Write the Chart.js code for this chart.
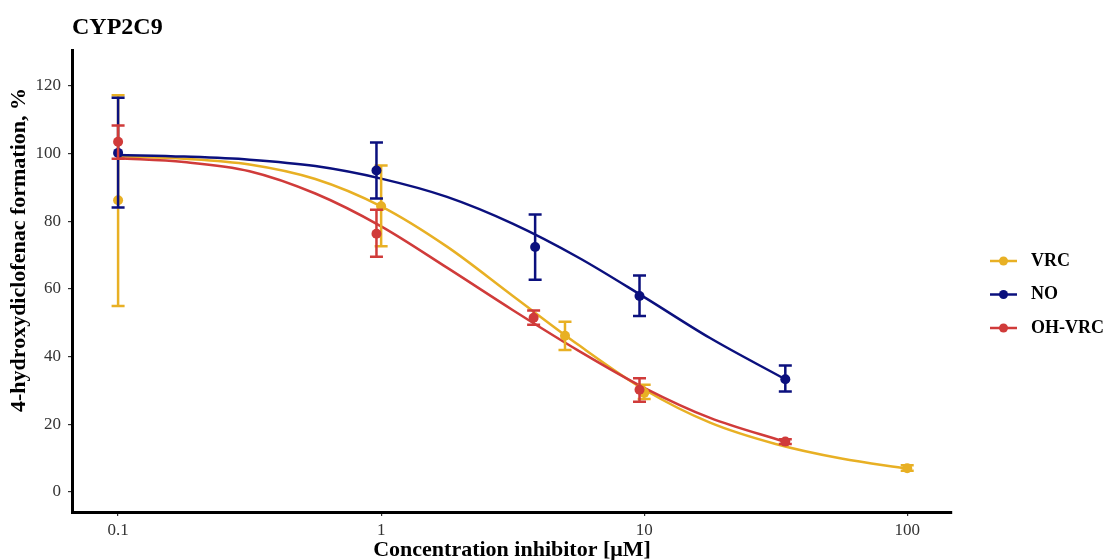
<!DOCTYPE html>
<html>
<head>
<meta charset="utf-8">
<script src="https://cdn.jsdelivr.net/npm/chart.js@4.4.1/dist/chart.umd.min.js"></script>
<style>
  html, body { margin: 0; padding: 0; background: #fff; }
  #wrap { width: 1110px; height: 560px; }
</style>
</head>
<body>
<div id="wrap"><canvas id="inhibChart"></canvas></div>
<script>
// Series names and colours (legend order)
const seriesNames = ['VRC', 'NO', 'OH-VRC'];
const seriesColors = ['#E8B024', '#0B107E', '#D03B3A'];

// Measured points: concentration (µM), mean %, error bar low / high
const concVRC = [0.1, 1, 5, 10, 100];
const meanVRC = [86.2, 84.4, 46.2, 29.3, 7.0];
const lowVRC  = [55.0, 72.6, 42.0, 27.5, 6.3];
const highVRC = [117.2, 96.5, 50.3, 31.7, 7.9];

const concNO = [0.1, 0.96, 3.85, 9.6, 34.4];
const meanNO = [100.2, 95.0, 72.4, 57.9, 33.3];
const lowNO  = [84.1, 86.7, 62.7, 52.0, 29.7];
const highNO = [116.5, 103.3, 82.0, 64.0, 37.4];

const concOH = [0.1, 0.96, 3.8, 9.6, 34.4];
const meanOH = [103.5, 76.3, 51.5, 30.2, 14.9];
const lowOH  = [98.5, 69.5, 49.4, 26.7, 14.2];
const highOH = [108.3, 83.4, 53.6, 33.6, 15.6];

// Fitted curves
const curveConc    = [0.1, 0.178, 0.316, 0.562, 1, 1.78, 3.16, 5.62, 10, 17.8, 34.4];
const curveConcVRC = [0.1, 0.178, 0.316, 0.562, 1, 1.78, 3.16, 5.62, 10, 17.8, 31.6, 56.2, 100];
const curveVRC = [99.2, 98.5, 96.8, 92.5, 84.4, 72.5, 58.0, 43.5, 30.3, 20.5, 14.2, 9.9, 6.9];
const curveNO  = [99.6, 99.1, 98.2, 96.3, 92.6, 87.2, 79.3, 69.3, 57.6, 45.5, 33.3];
const curveOH  = [98.6, 97.5, 94.8, 88.2, 78.5, 66.3, 53.8, 41.8, 30.8, 21.9, 14.8];

// Axis ticks and titles
const xTicks = [0.1, 1, 10, 100];
const yTicks = [0, 20, 40, 60, 80, 100, 120];
const xTitle = 'Concentration inhibitor [μM]';
const yTitle = '4-hydroxydiclofenac formation, %';

const toXY = (xs, ys) => xs.map((x, i) => ({ x: x, y: ys[i] }));

Chart.defaults.font.family = '"Liberation Serif", "Times New Roman", serif';

// error bars with caps, drawn just before each point dataset
const errorBars = {
    id: 'errorBars',
    beforeDatasetDraw(chart, args) {
        const ds = chart.data.datasets[args.index];
        if (!ds.errLow) return;
        const { ctx, scales: { x, y } } = chart;
        ctx.save();
        ctx.strokeStyle = ds.backgroundColor;
        ctx.lineWidth = 2.5;
        ds.data.forEach((p, i) => {
            const px = x.getPixelForValue(p.x);
            const yl = y.getPixelForValue(ds.errLow[i]);
            const yh = y.getPixelForValue(ds.errHigh[i]);
            ctx.beginPath();
            ctx.moveTo(px, yl); ctx.lineTo(px, yh);
            ctx.moveTo(px - 6.5, yl); ctx.lineTo(px + 6.5, yl);
            ctx.moveTo(px - 6.5, yh); ctx.lineTo(px + 6.5, yh);
            ctx.stroke();
        });
        ctx.restore();
    }
};

// legend on the right (line + dot, like ggplot) and the y axis title
const sideLegend = {
    id: 'sideLegend',
    afterDraw(chart) {
        const ctx = chart.ctx;
        const x0 = chart.chartArea.right + 38;
        ctx.save();
        ctx.font = 'bold 18px "Liberation Serif", serif';
        ctx.textBaseline = 'middle';
        seriesNames.forEach((name, i) => {
            const cy = 261 + i * 33.5;
            ctx.strokeStyle = seriesColors[i];
            ctx.lineWidth = 2.5;
            ctx.beginPath();
            ctx.moveTo(x0, cy); ctx.lineTo(x0 + 27, cy);
            ctx.stroke();
            ctx.fillStyle = seriesColors[i];
            ctx.beginPath();
            ctx.arc(x0 + 13.5, cy, 4.5, 0, Math.PI * 2);
            ctx.fill();
            ctx.fillStyle = '#000';
            ctx.fillText(name, x0 + 41, cy);
        });
        // y title sits a bit above the panel centre in the original
        ctx.translate(19, 250);
        ctx.rotate(-Math.PI / 2);
        ctx.textAlign = 'center';
        ctx.font = 'bold 22px "Liberation Serif", serif';
        ctx.fillText(yTitle, 0, 0);
        ctx.restore();
    }
};

function curveSet(xs, ys, color, order) {
    return {
        data: toXY(xs, ys),
        showLine: true,
        borderColor: color,
        borderWidth: 2.5,
        pointRadius: 0,
        pointHoverRadius: 0,
        cubicInterpolationMode: 'monotone',
        fill: false,
        order: order
    };
}
function pointSet(xs, ys, lo, hi, color, order) {
    return {
        data: toXY(xs, ys),
        showLine: false,
        pointRadius: 5,
        backgroundColor: color,
        borderColor: color,
        borderWidth: 0,
        errLow: lo,
        errHigh: hi,
        order: order
    };
}

new Chart(document.getElementById('inhibChart'), {
    type: 'scatter',
    data: {
        datasets: [
            curveSet(curveConcVRC, curveVRC, seriesColors[0], 6),
            curveSet(curveConc, curveNO, seriesColors[1], 5),
            curveSet(curveConc, curveOH, seriesColors[2], 4),
            pointSet(concVRC, meanVRC, lowVRC, highVRC, seriesColors[0], 3),
            pointSet(concNO, meanNO, lowNO, highNO, seriesColors[1], 2),
            pointSet(concOH, meanOH, lowOH, highOH, seriesColors[2], 1)
        ]
    },
    options: {
        responsive: true,
        maintainAspectRatio: false,
        animation: false,
        layout: { padding: { left: 0, right: 158, top: 0, bottom: 0 } },
        plugins: {
            legend: { display: false },
            tooltip: { enabled: false },
            title: {
                display: true,
                text: 'CYP2C9',
                align: 'start',
                fullSize: false,
                color: '#000',
                font: { size: 24, weight: 'bold' },
                padding: { top: 13, bottom: 8.2 }
            }
        },
        scales: {
            x: {
                type: 'logarithmic',
                min: 0.0668,
                max: 148,
                afterBuildTicks: s => { s.ticks = xTicks.map(v => ({ value: v })); },
                afterFit: s => { s.height = 48; },
                border: { display: true, color: '#000', width: 3 },
                grid: { display: true, drawOnChartArea: false, drawTicks: true, tickLength: 4, color: '#333', lineWidth: 1.2 },
                ticks: {
                    color: '#333',
                    font: { size: 17 },
                    padding: 4,
                    maxRotation: 0,
                    callback: v => String(v)
                },
                title: {
                    display: true,
                    text: xTitle,
                    color: '#000',
                    font: { size: 22, weight: 'bold', lineHeight: 1 },
                    padding: { top: 0, bottom: -1 }
                }
            },
            y: {
                min: -5.9,
                max: 130.6,
                afterBuildTicks: s => { s.ticks = yTicks.map(v => ({ value: v })); },
                afterFit: s => { s.width = 72; },
                border: { display: true, color: '#000', width: 3 },
                grid: { display: true, drawOnChartArea: false, drawTicks: true, tickLength: 4, color: '#333', lineWidth: 1.2 },
                ticks: {
                    color: '#333',
                    font: { size: 17 },
                    padding: 7
                },
                title: { display: false }
            }
        }
    },
    plugins: [errorBars, sideLegend]
});
</script>
</body>
</html>
